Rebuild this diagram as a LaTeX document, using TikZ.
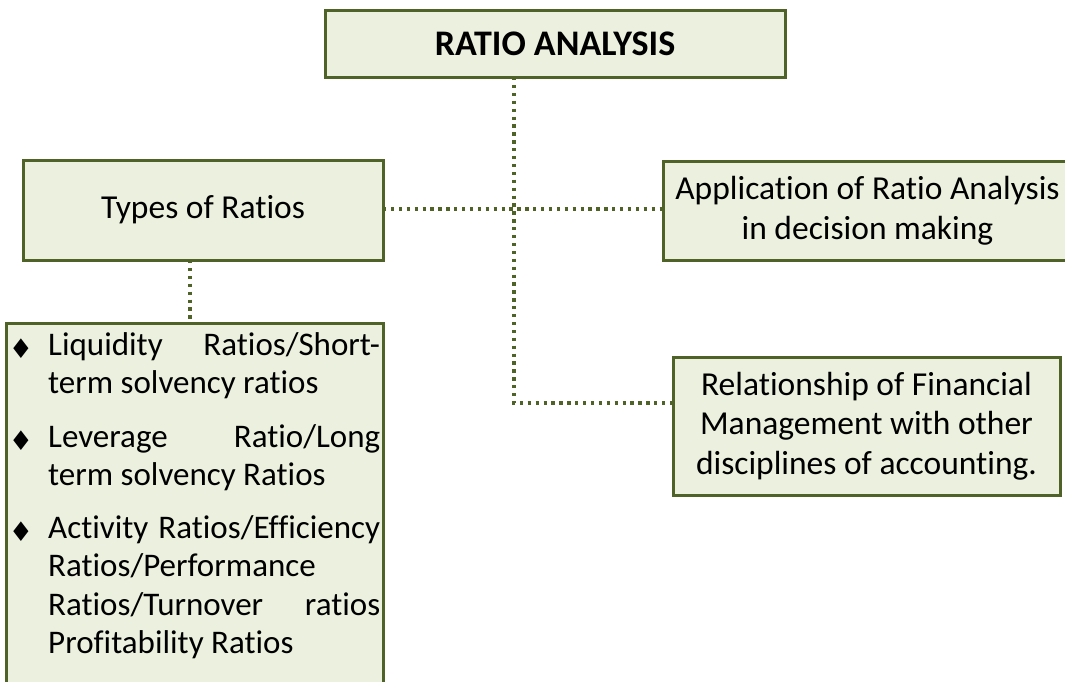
\documentclass[tikz,border=0pt]{standalone}
\usepackage{fontspec}
\setmainfont{Carlito}[Ligatures={NoCommon,NoDiscretionary,NoRare}]
\newfontfamily\symfont{DejaVu Sans}
\definecolor{olive}{HTML}{4F6228}
\definecolor{boxfill}{HTML}{EBF1DE}
\tikzset{
  box/.style={draw=olive, fill=boxfill, line width=3pt, rectangle, inner sep=0pt, outer sep=0pt, align=center,
    font=\fontsize{33.5}{39.5}\selectfont},
  link/.style={draw=olive, line width=3.3pt, dash pattern=on 3.3pt off 4.6pt},
  bul/.style={inner sep=0pt, font=\symfont\fontsize{27}{27}\selectfont},
  para/.style={inner sep=0pt, anchor=base west},
}
\newcommand{\listpar}[1]{\parbox[t]{332pt}{\fontsize{33}{38.5}\selectfont #1}}
\begin{document}
\begin{tikzpicture}[x=1pt,y=-1pt]
\useasboundingbox (0,0) rectangle (1065,681);
\clip (0,0) rectangle (1065,681);
% boxes
\node[box, minimum width=460pt, minimum height=67pt, font=\bfseries\fontsize{36}{42}\selectfont] (top) at (555,43.5) {RATIO ANALYSIS};
\node[box, minimum width=360pt, minimum height=100pt] (types) at (203,210) {Types of Ratios};
\node[box, minimum width=409pt, minimum height=99pt] (app) at (867.5,210.5) {Application of Ratio Analysis\\in decision making};
\node[box, minimum width=387pt, minimum height=138pt] (rel) at (866.5,426) {Relationship of Financial\\Management with other\\disciplines of accounting.};
\node[box, minimum width=377pt, minimum height=420pt, anchor=north west] (list) at (6,323) {};
% connector coordinates
\coordinate (j) at (514,209);
\coordinate (c) at (514,403);
\coordinate (k) at (190,300);
\draw[link] (top.south -| j) -- (c) -- (c -| rel.west);
\draw[link] (types.east |- j) -- (app.west |- j);
\draw[link] (types.south -| k) -- (list.north -| k);
% list contents
\node[bul] (b1) at (21,349) {♦};
\node[bul] (b2) at (21,441) {♦};
\node[bul] (b3) at (21,532) {♦};
\node[para] (p1) at (48,355) {\listpar{\makebox[\linewidth][s]{Liquidity Ratios/Short-}\\term solvency ratios}};
\node[para] (p2) at (48,447) {\listpar{\makebox[\linewidth][s]{Leverage Ratio/Long}\\term solvency Ratios}};
\node[para] (p3) at (48,538) {\listpar{\makebox[\linewidth][s]{Activity Ratios/Efficiency}\\Ratios/Performance\\\makebox[\linewidth][s]{Ratios/Turnover ratios}\\Profitability Ratios}};
\end{tikzpicture}
\end{document}
